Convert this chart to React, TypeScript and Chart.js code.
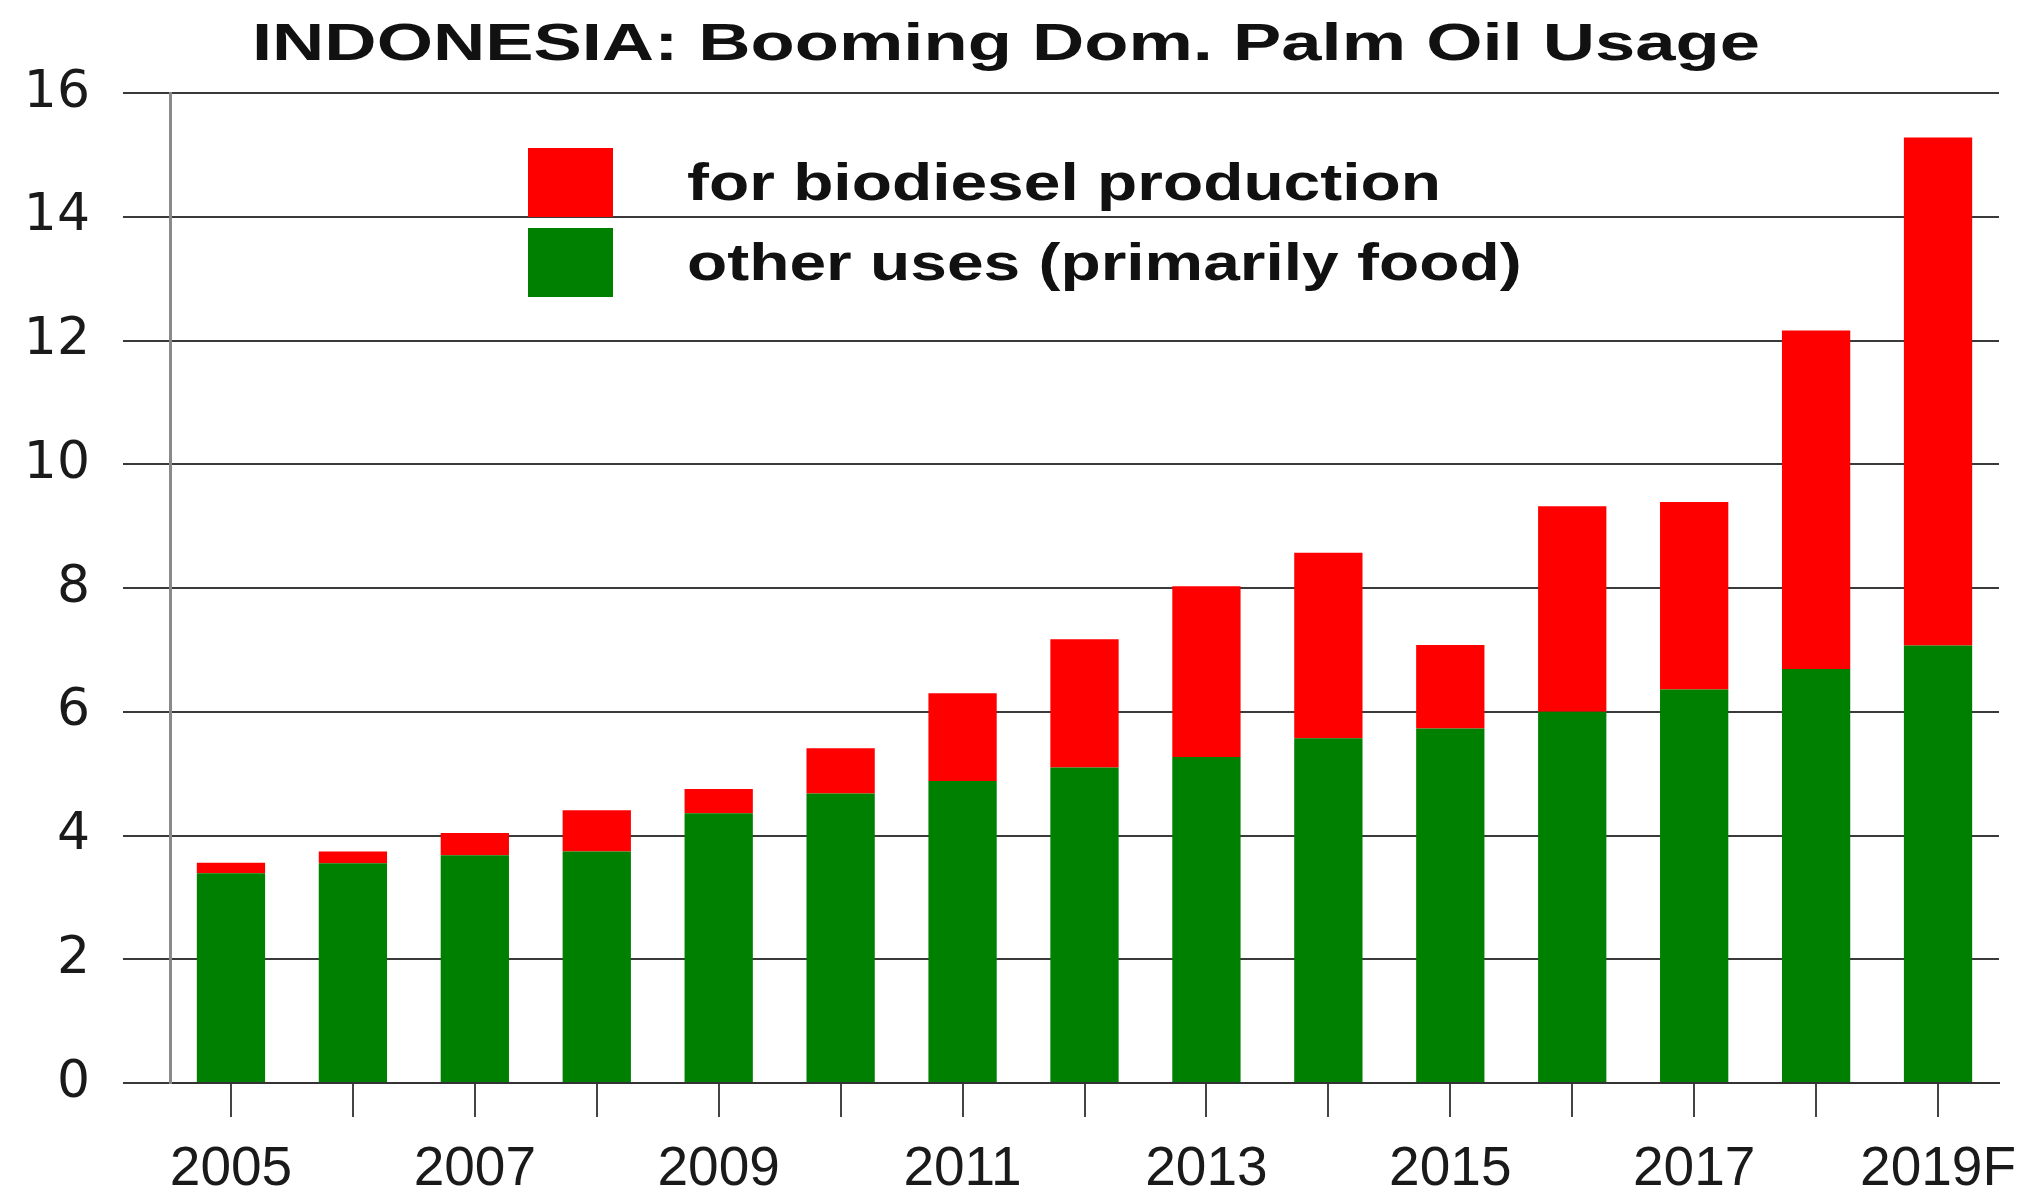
import React, { useEffect, useRef } from 'react';
import { Chart, registerables } from 'chart.js';

Chart.register(...registerables);

const TITLE = 'INDONESIA: Booming Dom. Palm Oil Usage';
const years = ['2005', '2006', '2007', '2008', '2009', '2010', '2011', '2012', '2013', '2014', '2015', '2016', '2017', '2018', '2019F'];
const otherUses = [3.39, 3.55, 3.68, 3.74, 4.36, 4.68, 4.88, 5.10, 5.27, 5.57, 5.73, 6.00, 6.36, 6.69, 7.07];
const biodiesel = [0.17, 0.19, 0.36, 0.67, 0.39, 0.73, 1.42, 2.07, 2.76, 3.00, 1.35, 3.32, 3.03, 5.47, 8.21];
const seriesNames = ['other uses (primarily food)', 'for biodiesel production'];
const seriesColors = ['#008000', '#ff0000'];
const yMin = 0;
const yMax = 16;
const yStep = 2;

const W = 2013;
const H = 1179;

const titlePlugin = {
  id: 'stretchTitle',
  afterDraw(chart: any) {
    const ctx = chart.ctx;
    ctx.save();
    ctx.font = 'bold 52px "Liberation Sans", Arial, sans-serif';
    ctx.fillStyle = '#111';
    ctx.textAlign = 'left';
    ctx.textBaseline = 'alphabetic';
    const w = ctx.measureText(TITLE).width;
    const sx = 1508 / w;
    ctx.translate(244, 52);
    ctx.scale(sx, 1);
    ctx.fillText(TITLE, 0, 0);
    ctx.restore();
  },
};

const legendPlugin = {
  id: 'insideLegend',
  afterDraw(chart: any) {
    const ctx = chart.ctx;
    const ds = chart.data.datasets;
    const order = [1, 0];
    ctx.save();
    ctx.font = 'bold 52px "Liberation Sans", Arial, sans-serif';
    ctx.textAlign = 'left';
    ctx.textBaseline = 'alphabetic';
    const w0 = ctx.measureText(ds[1].label).width;
    const sx = 754 / w0;
    order.forEach((di, k) => {
      const boxY = 140 + k * 80;
      ctx.fillStyle = ds[di].backgroundColor;
      ctx.fillRect(520, boxY, 85, 69);
      ctx.save();
      ctx.fillStyle = '#111';
      ctx.translate(679, 192 + k * 80);
      ctx.scale(sx, 1);
      ctx.fillText(ds[di].label, 0, 0);
      ctx.restore();
    });
    ctx.restore();
  },
};

export default function App() {
  const ref = useRef<HTMLCanvasElement | null>(null);

  useEffect(() => {
    if (!ref.current) return;
    const chart = new Chart(ref.current, {
      type: 'bar',
      data: {
        labels: years,
        datasets: [
          {
            label: seriesNames[0],
            data: otherUses,
            backgroundColor: seriesColors[0],
            borderWidth: 0,
            barPercentage: 0.56,
            categoryPercentage: 1,
          },
          {
            label: seriesNames[1],
            data: biodiesel,
            backgroundColor: seriesColors[1],
            borderWidth: 0,
            barPercentage: 0.56,
            categoryPercentage: 1,
          },
        ],
      },
      options: {
        responsive: false,
        animation: false,
        devicePixelRatio: 1,
        layout: { padding: { top: 85, right: 22, left: 0, bottom: 0 } },
        plugins: {
          legend: { display: false },
          title: { display: false, text: TITLE },
          tooltip: { enabled: false },
        },
        scales: {
          x: {
            stacked: true,
            afterFit(scale: any) {
              scale.height = 104;
              scale.paddingLeft = 0;
              scale.paddingRight = 0;
            },
            grid: {
              display: true,
              drawOnChartArea: false,
              drawTicks: true,
              tickLength: 34,
              offset: false,
              color: '#444',
              lineWidth: 2,
            },
            border: { display: true, color: '#333', width: 2 },
            ticks: {
              autoSkip: false,
              maxRotation: 0,
              minRotation: 0,
              padding: 20,
              color: '#1a1a1a',
              font: { family: '"Liberation Sans", Arial, sans-serif', size: 55 },
              callback: (_v: any, i: number) => (i % 2 === 0 ? years[i] : ''),
            },
          },
          y: {
            stacked: true,
            min: yMin,
            max: yMax,
            afterFit(scale: any) {
              scale.width = 162;
              scale.paddingTop = 0;
              scale.paddingBottom = 0;
            },
            grid: {
              color: '#3a3a3a',
              lineWidth: 2,
              drawTicks: true,
              tickLength: 47,
            },
            border: { display: true, color: '#8a8a8a', width: 3 },
            ticks: {
              stepSize: yStep,
              padding: 33,
              color: '#1a1a1a',
              font: { family: '"DejaVu Sans", sans-serif', size: 52 },
            },
          },
        },
      },
      plugins: [titlePlugin, legendPlugin],
    } as any);
    return () => chart.destroy();
  }, []);

  return (
    <div style={{ width: W, height: H, overflow: 'hidden' }}>
      <canvas ref={ref} width={W} height={H} style={{ display: 'block', width: W, height: H }} />
    </div>
  );
}
